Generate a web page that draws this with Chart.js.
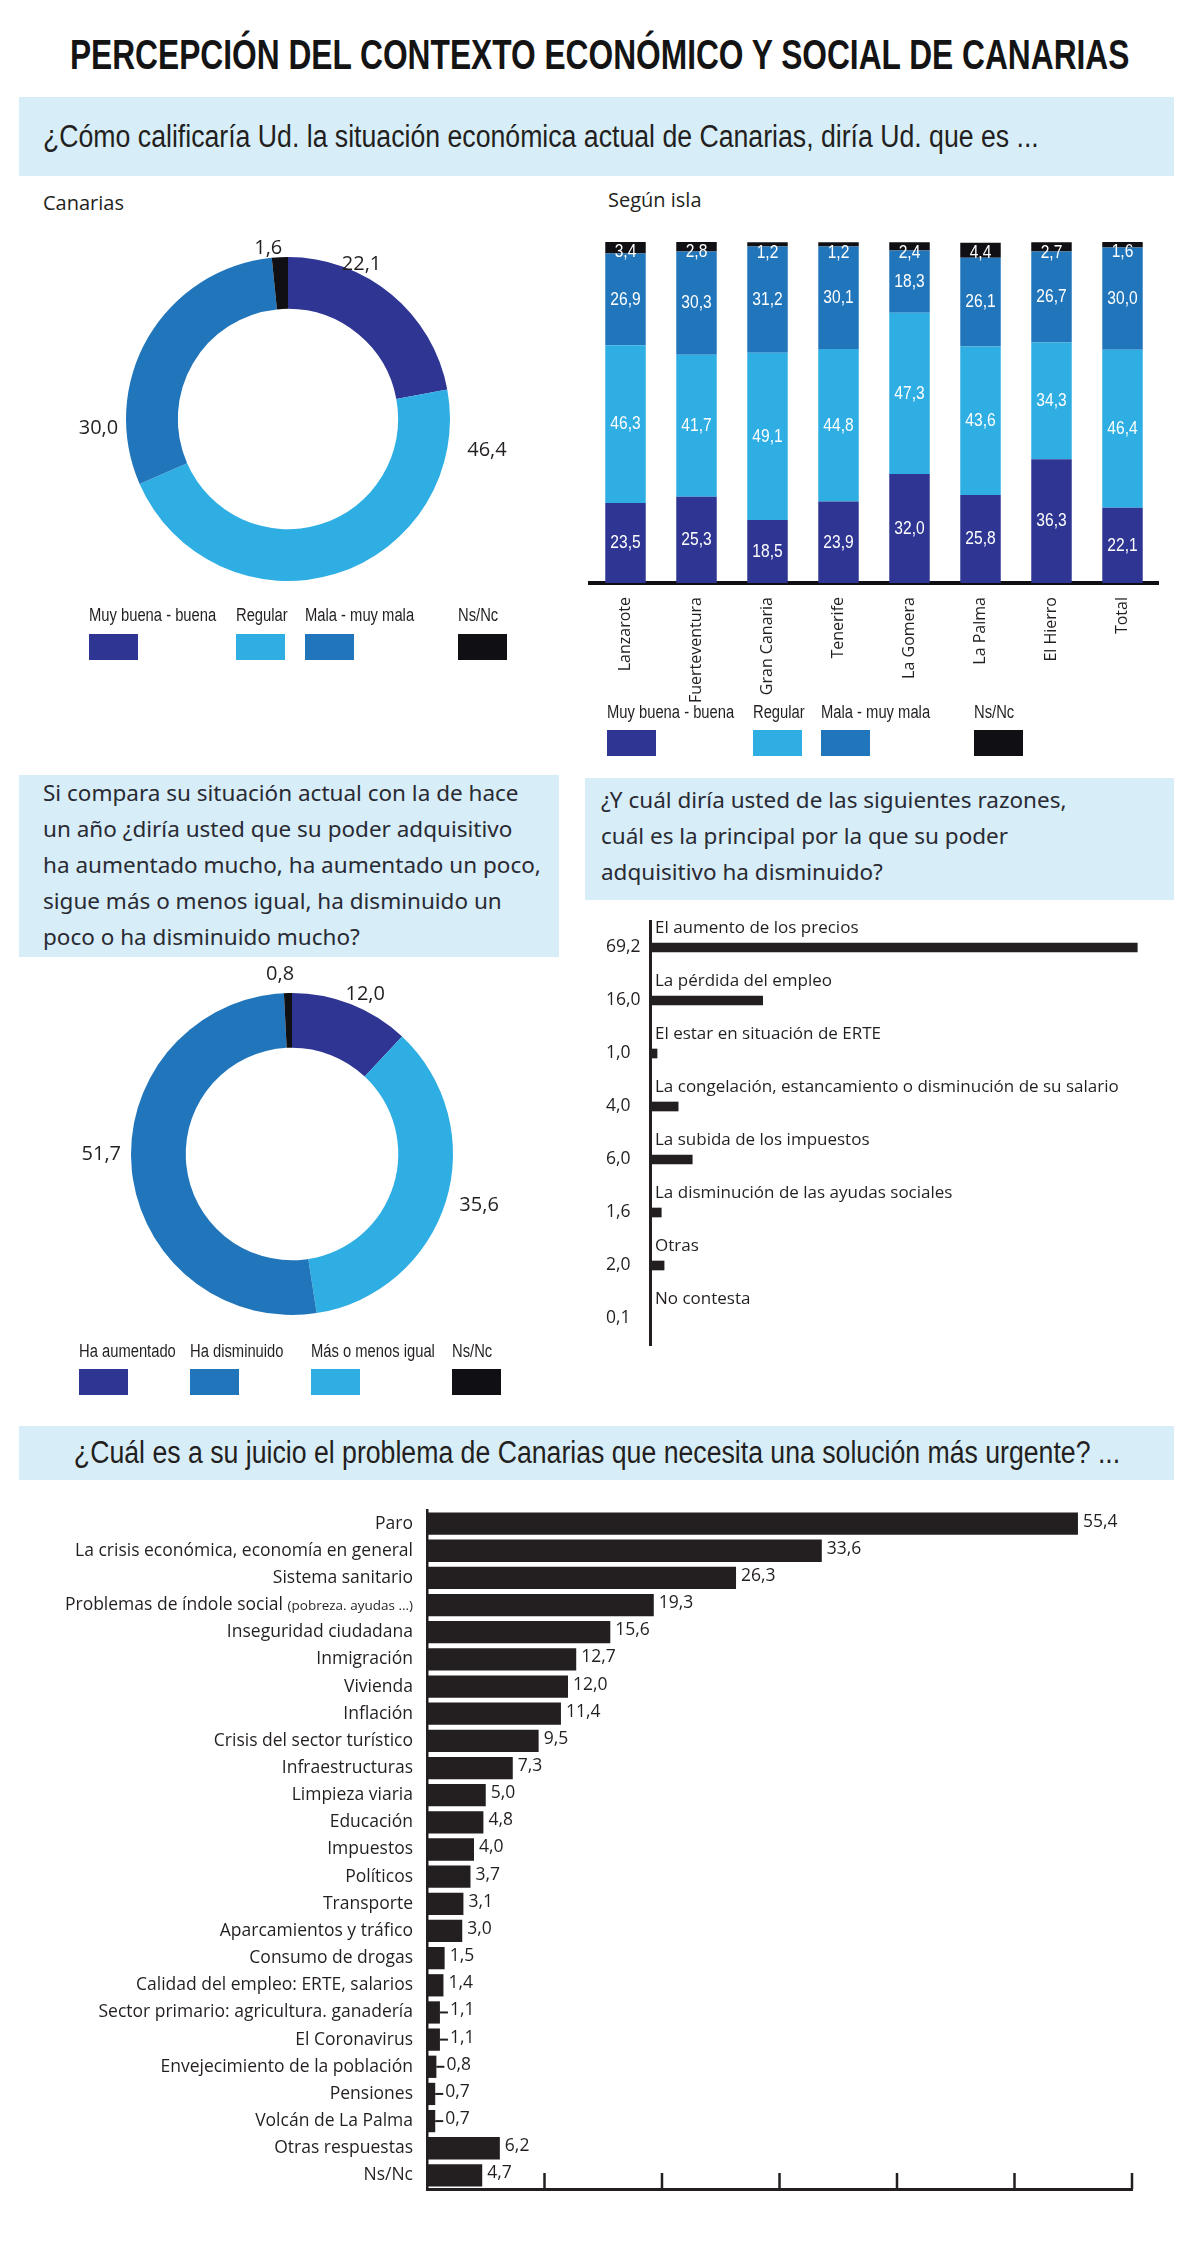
<!DOCTYPE html>
<html lang="es">
<head>
<meta charset="utf-8">
<title>Percepción del contexto económico y social de Canarias</title>
<script src="https://cdn.jsdelivr.net/npm/chart.js@4.4.0/dist/chart.umd.min.js"></script>
<style>
  html, body { margin: 0; padding: 0; background: #ffffff; }
  #page { position: relative; width: 1200px; height: 2259px; overflow: hidden; color: #231f20; }
  #page > * { position: absolute; }
  .sq { display: inline-block; white-space: nowrap; font-family: "Liberation Sans", Arimo, sans-serif; transform: scaleX(0.82); transform-origin: left center; }
  .sq.band-text { transform: scaleX(0.86); }
  .sq.c { transform-origin: center center; }
  .sq.mid { position: absolute; left: 50%; top: 0; transform-origin: center center; transform: translateX(-50%) scaleX(0.86); }
  .title { left: -200px; width: 1600px; top: 30px; text-align: center; font-weight: bold; font-size: 42px; line-height: 50px; color: #141414; }
  .title .sq { transform: scaleX(0.755); }
  .band { background: #d7eef9; }
  .band-line { font-size: 31px; line-height: 79px; padding-left: 24px; box-sizing: border-box; }
  .question { font-family: "Noto Sans", "Open Sans", sans-serif; font-size: 22.5px; line-height: 36px; padding-left: 24px; box-sizing: border-box; color: #2a2a33; white-space: nowrap; }
  .sub { font-family: "Open Sans", "Noto Sans", sans-serif; font-size: 20px; line-height: 26px; }
  .leg-label { font-size: 18px; line-height: 24px; }
  .leg-box { width: 49px; height: 26px; }
  canvas { display: block; }
</style>
</head>
<body>
<div id="page">
  <div class="title"><span class="sq c">PERCEPCIÓN DEL CONTEXTO ECONÓMICO Y SOCIAL DE CANARIAS</span></div>

  <div class="band band-line" style="left:19px;top:97px;width:1155px;height:79px;"><span class="sq band-text">¿Cómo calificaría Ud. la situación económica actual de Canarias, diría Ud. que es ...</span></div>
  <div class="sub" style="left:43px;top:190px;">Canarias</div>
  <div class="sub" style="left:608px;top:187px;">Según isla</div>
  <canvas id="donutCanarias" width="500" height="380" style="left:40px;top:230px;"></canvas>
  <canvas id="barIslas" width="600" height="480" style="left:580px;top:230px;"></canvas>

  <div class="band question" style="left:19px;top:775px;width:540px;height:182px;padding-top:0;">Si compara su situación actual con la de hace<br>un año ¿diría usted que su poder adquisitivo<br>ha aumentado mucho, ha aumentado un poco,<br>sigue más o menos igual, ha disminuido un<br>poco o ha disminuido mucho?</div>
  <div class="band question" style="left:585px;top:778px;width:589px;height:122px;padding-top:4px;padding-left:16px;">¿Y cuál diría usted de las siguientes razones,<br>cuál es la principal por la que su poder<br>adquisitivo ha disminuido?</div>
  <canvas id="donutPoder" width="500" height="380" style="left:40px;top:960px;"></canvas>
  <canvas id="barRazones" width="630" height="460" style="left:560px;top:900px;"></canvas>

  <div class="band" style="left:19px;top:1426px;width:1155px;height:54px;line-height:54px;font-size:31px;overflow:hidden;"><span class="sq mid">¿Cuál es a su juicio el problema de Canarias que necesita una solución más urgente? ...</span></div>
  <canvas id="barProblemas" width="1200" height="720" style="left:0px;top:1495px;"></canvas>
</div>

<script>
const NAVY = '#2e3592';
const LIGHT = '#2eaee3';
const MID = '#2176bb';
const BLACK = '#101014';
const INK = '#231f20';
const SANS = '"Liberation Sans", Arimo, sans-serif';
const HUMAN = '"Open Sans", "Noto Sans", sans-serif';
const SQUEEZE = 0.82;

// Situación económica de Canarias
const valoracion = ['Muy buena - buena', 'Regular', 'Mala - muy mala', 'Ns/Nc'];
const valoracionCanarias = [22.1, 46.4, 30.0, 1.6];

// Según isla
const islas = ['Lanzarote', 'Fuerteventura', 'Gran Canaria', 'Tenerife', 'La Gomera', 'La Palma', 'El Hierro', 'Total'];
const islaBuena = [23.5, 25.3, 18.5, 23.9, 32.0, 25.8, 36.3, 22.1];
const islaRegular = [46.3, 41.7, 49.1, 44.8, 47.3, 43.6, 34.3, 46.4];
const islaMala = [26.9, 30.3, 31.2, 30.1, 18.3, 26.1, 26.7, 30.0];
const islaNsNc = [3.4, 2.8, 1.2, 1.2, 2.4, 4.4, 2.7, 1.6];

// Poder adquisitivo
const poder = ['Ha aumentado', 'Más o menos igual', 'Ha disminuido', 'Ns/Nc'];
const poderValores = [12.0, 35.6, 51.7, 0.8];

// Razones de la disminución
const razones = [
  'El aumento de los precios',
  'La pérdida del empleo',
  'El estar en situación de ERTE',
  'La congelación, estancamiento o disminución de su salario',
  'La subida de los impuestos',
  'La disminución de las ayudas sociales',
  'Otras',
  'No contesta'
];
const razonesValores = [69.2, 16.0, 1.0, 4.0, 6.0, 1.6, 2.0, 0.1];

// Problema más urgente
const problemas = [
  'Paro',
  'La crisis económica, economía en general',
  'Sistema sanitario',
  'Problemas de índole social (pobreza. ayudas ...)',
  'Inseguridad ciudadana',
  'Inmigración',
  'Vivienda',
  'Inflación',
  'Crisis del sector turístico',
  'Infraestructuras',
  'Limpieza viaria',
  'Educación',
  'Impuestos',
  'Políticos',
  'Transporte',
  'Aparcamientos y tráfico',
  'Consumo de drogas',
  'Calidad del empleo: ERTE, salarios',
  'Sector primario: agricultura. ganadería',
  'El Coronavirus',
  'Envejecimiento de la población',
  'Pensiones',
  'Volcán de La Palma',
  'Otras respuestas',
  'Ns/Nc'
];
const problemasValores = [55.4, 33.6, 26.3, 19.3, 15.6, 12.7, 12.0, 11.4, 9.5, 7.3, 5.0, 4.8, 4.0, 3.7, 3.1, 3.0, 1.5, 1.4, 1.1, 1.1, 0.8, 0.7, 0.7, 6.2, 4.7];
const problemasTicks = [0, 10, 20, 30, 40, 50, 60];

function fmt(v) {
  return v.toFixed(1).replace('.', ',');
}

// condensed text: Liberation Sans squeezed horizontally
function narrowText(ctx, text, x, y, size, align) {
  ctx.save();
  ctx.font = size + 'px ' + SANS;
  ctx.textAlign = align;
  ctx.translate(x, y);
  ctx.scale(SQUEEZE, 1);
  ctx.fillText(text, 0, 0);
  ctx.restore();
}

function donutLabels(angles, gaps) {
  return {
    id: 'donutLabels',
    afterDatasetsDraw(chart) {
      const ctx = chart.ctx;
      const values = chart.data.datasets[0].data;
      ctx.save();
      ctx.font = '20px ' + HUMAN;
      ctx.fillStyle = INK;
      chart.getDatasetMeta(0).data.forEach((arc, i) => {
        const a = angles[i] * Math.PI / 180;
        const r = arc.outerRadius + gaps[i];
        const s = Math.sin(a);
        const c = Math.cos(a);
        ctx.textAlign = s > 0.5 ? 'left' : (s < -0.5 ? 'right' : 'center');
        ctx.textBaseline = c > 0.5 ? 'bottom' : 'middle';
        ctx.fillText(fmt(values[i]), arc.x + r * s, arc.y - r * c);
      });
      ctx.restore();
    }
  };
}

function makeDonut(id, labels, values, colors, cutout, padding, angles, gaps) {
  const ctx = document.getElementById(id).getContext('2d');
  return new Chart(ctx, {
    type: 'doughnut',
    data: {
      labels: labels,
      datasets: [{ data: values, backgroundColor: colors, borderWidth: 0 }]
    },
    options: {
      responsive: false,
      animation: false,
      cutout: cutout,
      layout: { padding: padding },
      plugins: { legend: { display: false }, tooltip: { enabled: false } }
    },
    plugins: [donutLabels(angles, gaps)]
  });
}

function buildLegend(labels, colors, xs, labelY, boxY) {
  const page = document.getElementById('page');
  labels.forEach((text, i) => {
    const lab = document.createElement('div');
    lab.className = 'leg-label';
    lab.style.left = xs[i] + 'px';
    lab.style.top = (labelY - 12) + 'px';
    const span = document.createElement('span');
    span.className = 'sq';
    span.textContent = text;
    lab.appendChild(span);
    page.appendChild(lab);

    const box = document.createElement('div');
    box.className = 'leg-box';
    box.style.left = xs[i] + 'px';
    box.style.top = boxY + 'px';
    box.style.background = colors[i];
    page.appendChild(box);
  });
}

const stackLabels = {
  id: 'stackLabels',
  afterDatasetsDraw(chart) {
    const ctx = chart.ctx;
    ctx.save();
    ctx.fillStyle = '#ffffff';
    ctx.textBaseline = 'middle';
    chart.data.datasets.forEach((ds, d) => {
      chart.getDatasetMeta(d).data.forEach((bar, i) => {
        let y = (bar.y + bar.base) / 2;
        if (d === chart.data.datasets.length - 1) y = Math.max(y, bar.y + 10);
        narrowText(ctx, fmt(ds.data[i]), bar.x, y, 19, 'center');
      });
    });
    ctx.restore();
  }
};

const razonLabels = {
  id: 'razonLabels',
  afterDatasetsDraw(chart) {
    const { ctx, chartArea } = chart;
    ctx.save();
    ctx.fillStyle = INK;
    ctx.textBaseline = 'middle';
    ctx.textAlign = 'left';
    chart.getDatasetMeta(0).data.forEach((bar, i) => {
      ctx.font = '17px ' + HUMAN;
      ctx.fillText(razones[i], chartArea.left + 5, bar.y - 19);
      ctx.font = '17.5px ' + HUMAN;
      ctx.fillText(fmt(razonesValores[i]), chartArea.left - 44, bar.y);
    });
    ctx.restore();
  }
};

const problemaLabels = {
  id: 'problemaLabels',
  afterDraw(chart) {
    const { ctx, chartArea } = chart;
    const yScale = chart.scales.y;
    const xScale = chart.scales.x;
    const meta = chart.getDatasetMeta(0);
    ctx.save();
    ctx.fillStyle = INK;
    ctx.strokeStyle = INK;
    ctx.textBaseline = 'middle';

    problemas.forEach((label, i) => {
      const y = yScale.getPixelForTick(i);
      const right = chartArea.left - 14;
      const cut = label.indexOf(' (');
      ctx.textAlign = 'right';
      if (cut > 0) {
        const main = label.slice(0, cut + 1);
        const note = label.slice(cut + 1);
        ctx.font = '13.5px ' + HUMAN;
        const noteW = ctx.measureText(note).width;
        ctx.fillText(note, right, y + 1);
        ctx.font = '17.5px ' + HUMAN;
        ctx.fillText(main, right - noteW, y);
      } else {
        ctx.font = '17.5px ' + HUMAN;
        ctx.fillText(label, right, y);
      }

      const bar = meta.data[i];
      const v = problemasValores[i];
      let tx = bar.x + 5;
      if (v <= 1.1) {
        ctx.lineWidth = 2;
        ctx.beginPath();
        ctx.moveTo(bar.x, y);
        ctx.lineTo(bar.x + 8, y);
        ctx.stroke();
        tx = bar.x + 10;
      }
      ctx.textAlign = 'left';
      ctx.font = '17.5px ' + HUMAN;
      ctx.fillText(fmt(v), tx, y - 2);
    });

    ctx.lineWidth = 2.5;
    problemasTicks.forEach(t => {
      if (t === 0) return;
      const px = xScale.getPixelForValue(t);
      ctx.beginPath();
      ctx.moveTo(px, chartArea.bottom);
      ctx.lineTo(px, chartArea.bottom - 16);
      ctx.stroke();
    });
    ctx.restore();
  }
};

// Donuts
makeDonut('donutCanarias', valoracion, valoracionCanarias, [NAVY, LIGHT, MID, BLACK], '68%',
  { left: 86, right: 90, top: 27, bottom: 29 }, [27, 100, 267, 353], [0, 20, 8, 0]);

makeDonut('donutPoder', poder, poderValores, [NAVY, LIGHT, MID, BLACK], '66%',
  { left: 91, right: 87, top: 33, bottom: 25 }, [26, 107, 270, 356], [6, 14, 10, 9]);

// Stacked bars by island
new Chart(document.getElementById('barIslas').getContext('2d'), {
  type: 'bar',
  data: {
    labels: islas,
    datasets: [
      { label: valoracion[0], data: islaBuena, backgroundColor: NAVY },
      { label: valoracion[1], data: islaRegular, backgroundColor: LIGHT },
      { label: valoracion[2], data: islaMala, backgroundColor: MID },
      { label: valoracion[3], data: islaNsNc, backgroundColor: BLACK }
    ]
  },
  options: {
    responsive: false,
    animation: false,
    datasets: { bar: { barPercentage: 0.57, categoryPercentage: 1 } },
    layout: { padding: { left: 10, right: 22, top: 12, bottom: 0 } },
    scales: {
      x: {
        stacked: true,
        grid: { display: false },
        border: { display: true, color: BLACK, width: 4 },
        ticks: { color: INK, font: { family: HUMAN, size: 16 }, maxRotation: 90, minRotation: 90, padding: 6 },
        afterFit: scale => { scale.height = 127; }
      },
      y: { stacked: true, display: false, min: 0, max: 100.1 }
    },
    plugins: { legend: { display: false }, tooltip: { enabled: false } }
  },
  plugins: [stackLabels]
});

// Razones
new Chart(document.getElementById('barRazones').getContext('2d'), {
  type: 'bar',
  data: {
    labels: razones,
    datasets: [{ data: razonesValores, backgroundColor: INK, barThickness: 9 }]
  },
  options: {
    indexAxis: 'y',
    responsive: false,
    animation: false,
    layout: { padding: { left: 90, right: 33, top: 21, bottom: 15 } },
    scales: {
      x: { display: false, min: 0, max: 72 },
      y: {
        grid: { display: false, drawTicks: false },
        ticks: { display: false },
        border: { display: true, color: INK, width: 3 },
        afterFit: scale => { scale.width = 0; }
      }
    },
    plugins: { legend: { display: false }, tooltip: { enabled: false } }
  },
  plugins: [razonLabels]
});

// Problemas
new Chart(document.getElementById('barProblemas').getContext('2d'), {
  type: 'bar',
  data: {
    labels: problemas,
    datasets: [{ data: problemasValores, backgroundColor: INK, barPercentage: 0.82, categoryPercentage: 1 }]
  },
  options: {
    indexAxis: 'y',
    responsive: false,
    animation: false,
    layout: { padding: { left: 427, right: 68, top: 15, bottom: 26 } },
    scales: {
      x: {
        min: 0,
        max: 60,
        grid: { display: false, drawTicks: false },
        ticks: { display: false, stepSize: 10 },
        border: { display: true, color: INK, width: 3 },
        afterFit: scale => { scale.height = 0; }
      },
      y: {
        grid: { display: false, drawTicks: false },
        ticks: { display: false },
        border: { display: true, color: INK, width: 2.5 },
        afterFit: scale => { scale.width = 0; }
      }
    },
    plugins: { legend: { display: false }, tooltip: { enabled: false } }
  },
  plugins: [problemaLabels]
});

// Legends
buildLegend(valoracion, [NAVY, LIGHT, MID, BLACK], [89, 236, 305, 458], 615, 634);
buildLegend(valoracion, [NAVY, LIGHT, MID, BLACK], [607, 753, 821, 974], 712, 730);
buildLegend([poder[0], poder[2], poder[1], poder[3]], [NAVY, MID, LIGHT, BLACK], [79, 190, 311, 452], 1351, 1369);
</script>
</body>
</html>
